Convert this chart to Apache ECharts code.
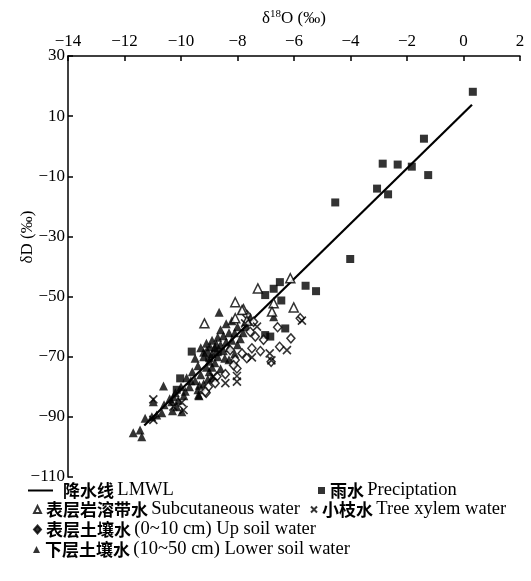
<!DOCTYPE html>
<html><head><meta charset="utf-8">
<script src="https://cdn.jsdelivr.net/npm/echarts@6/dist/echarts.min.js"></script>
<style>html,body{margin:0;padding:0;background:#fff}#c{width:531px;height:581px}</style>
</head><body><div id="c"></div>
<script>
// ---- data ----
const lmwlX = [-11.3, 0.3];
const lmwlY = [-92.9, 13.8];

const precipX = [0.33,-1.40,-2.86,-2.33,-1.83,-1.25,-3.06,-2.67,-4.54,-4.01,-5.59,-5.22,-6.50,-6.72,-7.02,-6.45,-7.02,-6.84,-6.31,-9.62,-10.03,-10.15,-9.0,-8.7];
const precipY = [18.1,2.5,-5.8,-6.1,-6.8,-9.6,-14.1,-16.0,-18.7,-37.5,-46.4,-48.2,-45.2,-47.4,-49.5,-51.3,-62.8,-63.3,-60.6,-68.3,-77.2,-81.0,-70.5,-68.5];

const subX = [-6.13,-7.28,-6.01,-9.17,-8.08,-7.79,-6.72,-6.78,-8.08,-7.67,-7.84];
const subY = [-43.9,-47.3,-53.6,-58.9,-51.9,-54.2,-52.2,-55.0,-57.2,-58.0,-54.5];

const treeX = [-5.72,-6.25,-6.86,-7.49,-8.02,-8.43,-8.02,-10.98,-9.97,-9.91,-10.98,-8.85,-10.27,-7.73,-7.31,-6.80];
const treeY = [-58.0,-67.8,-68.9,-70.2,-76.4,-78.8,-78.3,-84.2,-85.2,-87.7,-91.0,-76.6,-86.6,-58.9,-60.0,-71.2];

const upX = [-6.58,-6.11,-6.51,-6.81,-7.19,-7.08,-7.67,-8.02,-8.08,-8.73,-9.03,-9.11,-8.43,-7.55,-7.37,-7.49,-7.84,-8.26,-5.78,-7.67,-7.43,-8.79,-8.14,-9.14];
const upY = [-60.2,-63.9,-66.7,-71.7,-68.1,-64.4,-70.5,-73.9,-71.1,-76.6,-80.0,-82.0,-75.8,-61.7,-63.3,-67.2,-68.9,-67.8,-57.2,-56.1,-58.4,-78.8,-72.8,-81.6];

const lowX = [-8.65,-6.72,-10.62,-9.36,-10.98,-11.69,-11.39,-11.45,-11.27,-11.03,-10.86,-10.68,-10.33,-10.27,-10.15,-9.97,-9.08,-8.97,
  -9.3,-9.1,-8.9,-8.7,-8.8,-8.6,-8.5,-8.4,-8.3,-8.9,-9.2,-9.0,-8.7,-8.5,-8.3,-9.4,-9.1,-8.8,-9.6,-9.3,-9.0,-9.8,-9.5,-9.2,-8.9,-8.6,-8.3,-8.1,-8.0,-7.9,-7.8,-8.1,-8.0,-7.7,-9.7,-9.4,-10.0,-10.2,-9.9,-8.6,-8.4,-8.2,-7.55,-10.4,-10.6,-9.38,
  -9.5,-9.2,-8.9,-8.75,-9.05,-9.35,-9.65,-10.1,-10.3,-8.45,-8.2,-9.85];
const lowY = [-55.2,-56.7,-79.7,-83.0,-85.0,-95.3,-96.6,-94.4,-90.5,-90.0,-89.4,-88.6,-85.0,-83.3,-86.6,-88.3,-67.8,-66.7,
  -67,-65.5,-64.5,-63.5,-67,-66,-63,-65,-62,-69,-70,-71.5,-70,-68,-67,-73,-73.5,-72,-75,-76,-75,-77,-78,-79,-77,-74,-71,-69,-66,-64,-62,-62,-60,-60,-80,-81,-80,-82,-83,-61,-59,-58,-56.8,-84,-86,-82.7,
  -70.5,-68.5,-73.5,-65.8,-77.5,-79.5,-78,-84.5,-88,-70.5,-64.5,-81.5];

const xTicks = {min:-14, max:2, step:2};
const yTicks = {min:-110, max:30, step:20};

const names = {
  lmwl: '降水线 LMWL',
  precip: '雨水 Preciptation',
  sub: '表层岩溶带水 Subcutaneous water',
  tree: '小枝水 Tree xylem water',
  up: '表层土壤水 (0~10 cm) Up soil water',
  low: '下层土壤水 (10~50 cm) Lower soil water'
};

// ---- chart ----
const zip = (xs, ys) => xs.map((x, i) => [x, ys[i]]);
const serif = 'Liberation Serif';
const cjk = 'Noto Sans CJK SC';
const fmtMinus = v => String(v).replace('-', '\u2212');
const crossPath = 'path://M0,0 L10,10 M10,0 L0,10';

function legendFmt(n) {
  const i = n.indexOf(' ');
  return '{cn|' + n.slice(0, i) + '} {en|' + n.slice(i + 1) + '}';
}
function legendText(extraPad) {
  return {
    color: '#000',
    rich: {
      cn: {fontFamily: cjk, fontWeight: 'bold', fontSize: 17, color: '#000', padding: [0, 0, 0, extraPad || 0]},
      en: {fontFamily: serif, fontSize: 18.5, color: '#000'}
    }
  };
}
function mkLegend(data, left, top, w, h, extraPad) {
  return {
    data: data, left: left, top: top, orient: 'horizontal',
    itemWidth: w, itemHeight: h, itemGap: 0, padding: 0,
    formatter: legendFmt, textStyle: legendText(extraPad),
    selectedMode: false
  };
}

const chart = echarts.init(document.getElementById('c'), null, {renderer: 'canvas'});
chart.setOption({
  backgroundColor: '#fff',
  animation: false,
  grid: {left: 68, top: 56, right: 11, bottom: 104},
  xAxis: {
    type: 'value', position: 'top', min: xTicks.min, max: xTicks.max, interval: xTicks.step,
    name: '{a|δ}{s|18}{a|O (‰)}', nameLocation: 'middle', nameGap: 28,
    nameTextStyle: {rich: {a: {fontFamily: serif, fontSize: 17, color: '#000'}, s: {fontFamily: serif, fontSize: 11, color: '#000', verticalAlign: 'top', padding: [0, 0, 8, 0]}}},
    axisLine: {show: true, onZero: false, lineStyle: {color: '#000', width: 1.5}},
    axisTick: {show: true, inside: true, length: 5, lineStyle: {color: '#000', width: 1.5}},
    axisLabel: {color: '#000', fontFamily: serif, fontSize: 17, margin: 6, formatter: fmtMinus},
    splitLine: {show: false}
  },
  yAxis: {
    type: 'value', min: yTicks.min, max: yTicks.max, interval: yTicks.step,
    axisLine: {show: true, onZero: false, lineStyle: {color: '#000', width: 1.5}},
    axisTick: {show: true, inside: true, length: 5, lineStyle: {color: '#000', width: 1.5}},
    axisLabel: {color: '#000', fontFamily: serif, fontSize: 17, margin: 3, formatter: fmtMinus},
    splitLine: {show: false}
  },
  graphic: [{
    type: 'text', x: 28, y: 237, rotation: Math.PI / 2,
    style: {text: 'δD (‰)', fontFamily: serif, fontSize: 17, fill: '#000', align: 'center', verticalAlign: 'middle'}
  }],
  legend: [
    mkLegend([{name: names.lmwl, icon: 'rect'}], 28, 481, 25, 2, 5),
    mkLegend([{name: names.precip, icon: 'rect'}], 318, 481, 7, 7),
    mkLegend([{name: names.sub, icon: 'triangle'}], 33, 500, 7, 7),
    mkLegend([{name: names.tree, icon: crossPath}], 310, 500, 6, 6),
    mkLegend([{name: names.up, icon: 'diamond', itemStyle: {color: '#000', borderColor: '#000'}}], 33, 520, 7, 8),
    mkLegend([{name: names.low, icon: 'triangle'}], 33, 540, 7, 7)
  ],
  series: [
    {
      name: names.lmwl, type: 'line', data: zip(lmwlX, lmwlY), showSymbol: false, symbol: 'none',
      lineStyle: {color: '#000', width: 2.2}, itemStyle: {color: '#000'}, z: 3
    },
    {
      name: names.low, type: 'scatter', data: zip(lowX, lowY), symbol: 'triangle', symbolSize: 9,
      itemStyle: {color: '#000'}, z: 2
    },
    {
      name: names.precip, type: 'scatter', data: zip(precipX, precipY), symbol: 'rect', symbolSize: 8,
      itemStyle: {color: '#000'}, z: 2
    },
    {
      name: names.up, type: 'scatter', data: zip(upX, upY), symbol: 'diamond', symbolSize: [8, 9],
      itemStyle: {color: '#fff', borderColor: '#000', borderWidth: 1.5}, z: 4
    },
    {
      name: names.sub, type: 'scatter', data: zip(subX, subY), symbol: 'triangle', symbolSize: 9,
      itemStyle: {color: '#fff', borderColor: '#000', borderWidth: 1.5}, z: 4
    },
    {
      name: names.tree, type: 'scatter', data: zip(treeX, treeY), symbol: crossPath, symbolSize: 8,
      itemStyle: {color: 'rgba(0,0,0,0)', borderColor: '#000', borderWidth: 1.6}, z: 4
    }
  ]
});
</script>
</body></html>
